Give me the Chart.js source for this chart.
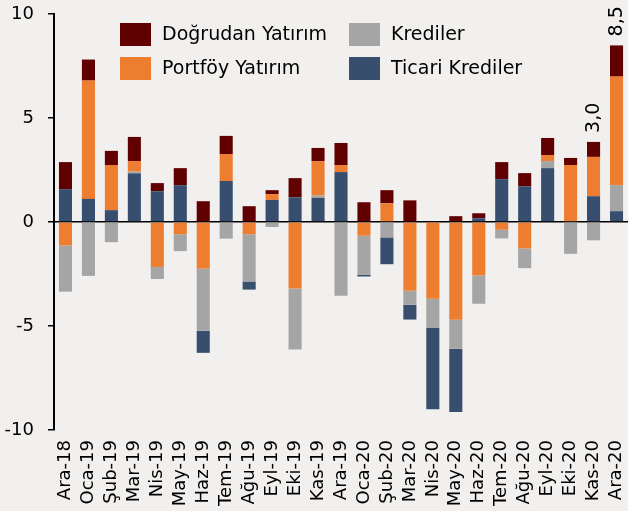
<!DOCTYPE html>
<html>
<head>
<meta charset="utf-8">
<script src="https://cdn.jsdelivr.net/npm/chart.js@4.4.1/dist/chart.umd.min.js"></script>
<style>
  html, body { margin: 0; padding: 0; background: #f2f0ee; }
  #wrap { width: 628px; height: 511px; position: relative; }
</style>
</head>
<body>
<div id="wrap"><canvas id="chart"></canvas></div>
<script>
// aylar
const months = ['Ara-18','Oca-19','Şub-19','Mar-19','Nis-19','May-19','Haz-19','Tem-19','Ağu-19','Eyl-19','Eki-19','Kas-19',
  'Ara-19','Oca-20','Şub-20','Mar-20','Nis-20','May-20','Haz-20','Tem-20','Ağu-20','Eyl-20','Eki-20','Kas-20','Ara-20'];

const dogrudan = [1.30, 1.01, 0.68, 1.16, 0.39, 0.82, 1.00, 0.87, 0.76, 0.19, 0.92, 0.63, 1.06, 0.95, 0.63, 1.04, 0.03, 0.28, 0.24, 0.82, 0.63, 0.82, 0.34, 0.72, 1.50];
const portfoy = [-1.13, 5.69, 2.17, 0.51, -2.16, -0.59, -2.24, 1.30, -0.59, 0.28, -3.20, 1.66, 0.34, -0.66, 0.90, -3.31, -3.69, -4.70, -2.57, -0.37, -1.27, 0.29, 2.74, 1.89, 5.22];
const krediler = [-2.22, -2.59, -0.97, 0.08, -0.58, -0.81, -2.99, -0.80, -2.27, -0.24, -2.93, 0.11, -3.55, -1.87, -0.74, -0.67, -1.40, -1.40, -1.36, -0.42, -0.95, 0.34, -1.53, -0.88, 1.25];
const ticari = [1.58, 1.11, 0.57, 2.34, 1.48, 1.77, -1.06, 1.97, -0.39, 1.06, 1.19, 1.16, 2.40, -0.09, -1.29, -0.71, -3.91, -3.04, 0.18, 2.06, 1.72, 2.59, 0, 1.24, 0.52];

// toplam etiketi yazilan aylar
const labeledMonths = ['Kas-20', 'Ara-20'];

const yTicks = [-10, -5, 0, 5, 10];

const FONT = 'DejaVu Sans';
const colors = {
  dogrudan: '#600000',
  portfoy: '#ed7d31',
  krediler: '#a5a5a5',
  ticari: '#374e6e'
};

const legendItems = [
  { text: 'Doğrudan Yatırım', color: colors.dogrudan, x: 120, y: 23 },
  { text: 'Portföy Yatırım', color: colors.portfoy, x: 120, y: 57 },
  { text: 'Krediler', color: colors.krediler, x: 349, y: 23 },
  { text: 'Ticari Krediler', color: colors.ticari, x: 349, y: 57 }
];

let pos = arr => arr.map(v => v > 0 ? v : null);
let neg = arr => arr.map(v => v < 0 ? v : null);

let bar = (label, data, color) => ({
  label: label,
  data: data,
  backgroundColor: color,
  borderWidth: 0,
  stack: 's',
  barPercentage: 0.57,
  categoryPercentage: 1
});

/* pozitifler: ticari, krediler, portfoy, dogrudan - negatifler: portfoy, krediler, ticari */
const datasets = [
  bar('Ticari Krediler', pos(ticari), colors.ticari),
  bar('Krediler', pos(krediler), colors.krediler),
  bar('Portföy Yatırım', pos(portfoy), colors.portfoy),
  bar('Doğrudan Yatırım', pos(dogrudan), colors.dogrudan),
  bar('Portföy Yatırım', neg(portfoy), colors.portfoy),
  bar('Krediler', neg(krediler), colors.krediler),
  bar('Ticari Krediler', neg(ticari), colors.ticari),
  bar('Doğrudan Yatırım', neg(dogrudan), colors.dogrudan)
];

const extras = {
  id: 'extras',
  afterDraw(chart) {
    const c = chart.ctx;
    const x = chart.scales.x, y = chart.scales.y;
    c.save();
    // legend
    c.font = '19px "' + FONT + '"';
    c.textBaseline = 'middle';
    c.textAlign = 'left';
    legendItems.forEach(it => {
      c.fillStyle = it.color;
      c.fillRect(it.x, it.y, 31, 23);
      c.fillStyle = '#000';
      c.fillText(it.text, it.x + 42, it.y + 12);
    });
    // toplam etiketleri
    labeledMonths.forEach(m => {
      const i = months.indexOf(m);
      const vals = [dogrudan[i], portfoy[i], krediler[i], ticari[i]];
      const top = vals.filter(v => v > 0).reduce((a, b) => a + b, 0);
      const total = vals.reduce((a, b) => a + b, 0);
      const px = x.getPixelForValue(i);
      const py = y.getPixelForValue(top) - 9;
      c.save();
      c.translate(px, py);
      c.rotate(-Math.PI / 2);
      c.fillStyle = '#000';
      c.font = '19px "' + FONT + '"';
      c.textAlign = 'left';
      c.textBaseline = 'middle';
      c.fillText(total.toFixed(1).replace('.', ','), 0, 1);
      c.restore();
    });
    c.restore();
  }
};

const config = {
  type: 'bar',
  data: { labels: months, datasets: datasets },
  options: {
    responsive: true,
    maintainAspectRatio: false,
    animation: false,
    layout: { padding: { top: 14, right: 0, left: 0, bottom: 0 } },
    plugins: {
      legend: { display: false },
      tooltip: { enabled: false }
    },
    scales: {
      x: {
        stacked: true,
        grid: { display: false },
        border: { display: false },
        ticks: {
          color: '#000',
          font: { family: FONT, size: 18 },
          minRotation: 90,
          maxRotation: 90,
          autoSkip: false,
          padding: 2
        },
        afterFit: s => { s.height = 81; s.paddingLeft = 0; s.paddingRight = 0; }
      },
      y: {
        stacked: true,
        min: -10,
        max: 10,
        afterBuildTicks: s => { s.ticks = yTicks.map(v => ({ value: v })); },
        ticks: {
          color: '#000',
          font: { family: FONT, size: 18 },
          padding: 14
        },
        grid: {
          color: ctx => ctx.tick && ctx.tick.value === 0 ? '#000' : 'transparent',
          lineWidth: 1.5,
          tickColor: '#000',
          tickLength: 6,
          tickWidth: 1.5
        },
        border: { display: true, color: '#000', width: 2 },
        afterFit: s => { s.width = 54; s.paddingTop = 0; s.paddingBottom = 0; }
      }
    }
  },
  plugins: [extras]
};

new Chart(document.getElementById('chart'), config);
</script>
</body>
</html>
